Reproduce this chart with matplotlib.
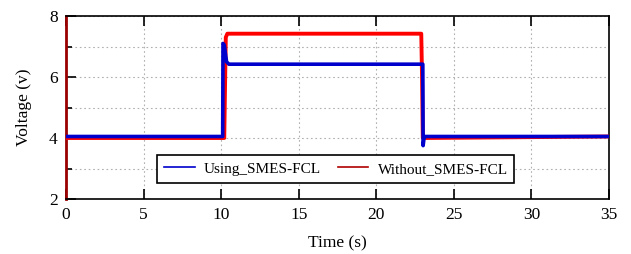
import matplotlib
matplotlib.use("Agg")
import matplotlib.pyplot as plt
from matplotlib.lines import Line2D
from matplotlib.ticker import MultipleLocator

plt.rcParams["font.family"] = ["Liberation Serif", "DejaVu Serif"]

# step breakpoints
t_using = [0.0, 10.1, 10.12, 10.2, 10.35, 10.5, 23.0, 23.02, 23.08, 23.15, 35.0]
v_using = [4.05, 4.05, 7.1, 7.05, 6.5, 6.42, 6.42, 3.75, 4.0, 4.05, 4.05]

t_without = [0.0, 10.2, 10.3, 10.4, 22.9, 22.95, 23.0, 35.0]
v_without = [4.0, 4.0, 7.3, 7.42, 7.42, 6.0, 4.0, 4.05]

fig = plt.figure(figsize=(6.31, 2.54), dpi=100)
ax = fig.add_axes([0.1046, 0.2165, 0.8605, 0.7205])

ax.plot(t_without, v_without, color="#ff0000", linewidth=2.8, zorder=3)
ax.plot(t_using, v_using, color="#0000cc", linewidth=2.6, zorder=4)

ax.set_xlim(0, 35)
ax.set_ylim(2, 8)
ax.xaxis.set_major_locator(MultipleLocator(5))
ax.yaxis.set_major_locator(MultipleLocator(2))
ax.yaxis.set_minor_locator(MultipleLocator(1))
ax.tick_params(which="both", direction="in", top=True, right=False, labelsize=12.5, width=1.2)
ax.tick_params(which="major", length=7, pad=6)
ax.tick_params(which="minor", length=4)
ax.grid(True, which="both", linestyle=(0, (1.5, 2.5)), color="#b0b0b0", linewidth=0.8)
for s in ax.spines.values():
    s.set_linewidth(1.2)
# the red trace starts with a full-height spike at t=0 hugging the axis
ax.spines["left"].set_color("#9b0000")
ax.spines["left"].set_linewidth(2)

ax.set_xlabel("Time (s)", fontsize=12.5, labelpad=9)
ax.set_ylabel("Voltage (v)", fontsize=12.5, labelpad=12)

handles = [Line2D([], [], color="#0000cc", linewidth=1.2),
           Line2D([], [], color="#b00000", linewidth=1.2)]
labels = ["Using_SMES-FCL", "Without_SMES-FCL"]
leg = ax.legend(handles, labels, loc="center", bbox_to_anchor=(0.497, 0.165), ncol=2,
                fontsize=11, fancybox=False, framealpha=1, edgecolor="black",
                handlelength=2.0, handletextpad=0.6, columnspacing=1.1, borderpad=0.45,
                borderaxespad=0)
leg.get_frame().set_linewidth(1.2)

fig.savefig("out.png", dpi=100)
